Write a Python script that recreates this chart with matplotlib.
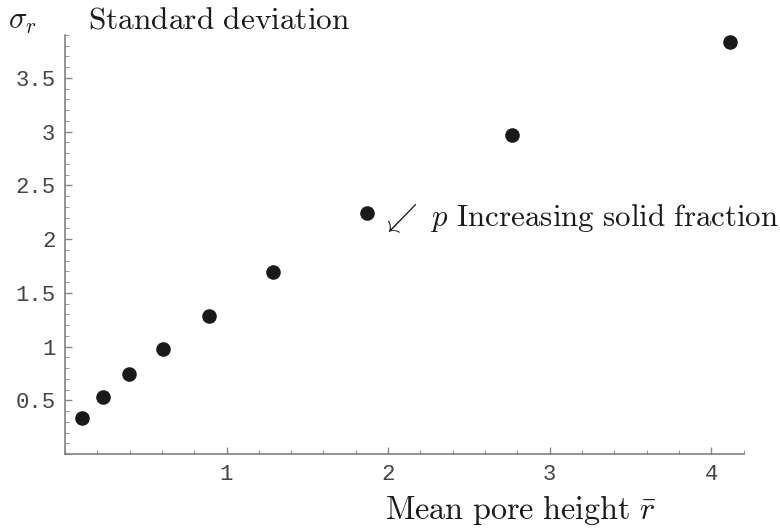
import matplotlib
matplotlib.use("Agg")
import matplotlib.pyplot as plt
from matplotlib.ticker import MultipleLocator, FixedLocator

plt.rcParams['mathtext.fontset'] = 'cm'

# Data
mean_pore_height = [0.106, 0.236, 0.399, 0.607, 0.889, 1.288, 1.869, 2.766, 4.116]
std_deviation = [0.338, 0.534, 0.743, 0.981, 1.289, 1.690, 2.241, 2.973, 3.833]
x_ticks = [1, 2, 3, 4]
x_tick_labels = ["1", "2", "3", "4"]
y_ticks = [0.5, 1, 1.5, 2, 2.5, 3, 3.5]
y_tick_labels = ["0.5", "1", "1.5", "2", "2.5", "3", "3.5"]

W, H = 780, 530
fig = plt.figure(figsize=(W / 100, H / 100), dpi=100)
ax = fig.add_axes([65 / W, 1 - 454 / H, (743.5 - 65) / W, (454 - 35) / H])

ax.plot(mean_pore_height, std_deviation, 'o', color='#1a1a1a', markersize=10.5,
        markeredgewidth=0, clip_on=False)

ax.set_xlim(0, 4.2)
ax.set_ylim(0, 3.9)

for s in ['top', 'right']:
    ax.spines[s].set_visible(False)
for s in ['left', 'bottom']:
    ax.spines[s].set_color('#777777')
    ax.spines[s].set_linewidth(1.1)

ax.xaxis.set_major_locator(FixedLocator(x_ticks))
ax.set_xticklabels(x_tick_labels)
ax.yaxis.set_major_locator(FixedLocator(y_ticks))
ax.set_yticklabels(y_tick_labels)
ax.xaxis.set_minor_locator(MultipleLocator(0.2))
ax.yaxis.set_minor_locator(MultipleLocator(0.1))

ax.tick_params(which='major', direction='in', length=5, width=1.0, color='#888888',
               labelsize=16, labelcolor='#444444', pad=7)
ax.tick_params(which='minor', direction='in', length=3, width=0.8, color='#999999')
for lab in ax.get_xticklabels() + ax.get_yticklabels():
    lab.set_family('Liberation Mono')

fig.text(22 / W, 1 - 21 / H, r"$\sigma_r$", fontsize=22, ha='center', va='center', color='#1a1a1a')
fig.text(88 / W, 1 - 20 / H, r"$\mathrm{Standard\ deviation}$", fontsize=22.6,
         ha='left', va='center', color='#1a1a1a')
fig.text(385 / W, 1 - 510 / H, r"$\mathrm{Mean\ pore\ height}\ \bar{r}$", fontsize=23.2,
         ha='left', va='center', color='#1a1a1a')
fig.text(381 / W, 1 - 219 / H, r"$\swarrow\ p\ \mathrm{Increasing\ solid\ fraction}$",
         fontsize=22.3, ha='left', va='center', color='#1a1a1a')

fig.savefig("out.png", dpi=100)
